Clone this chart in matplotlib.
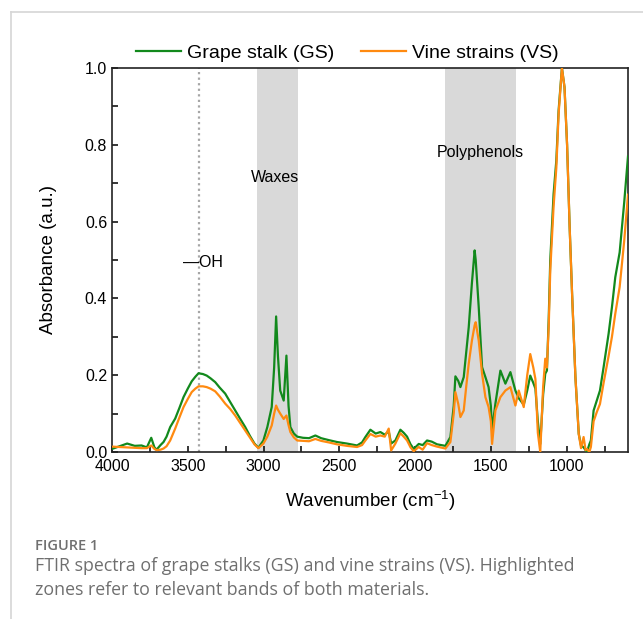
import matplotlib
matplotlib.use('Agg')
import matplotlib.pyplot as plt
from matplotlib.lines import Line2D
from matplotlib.ticker import MultipleLocator

# wavenumber (cm-1) and absorbance
wavenumber = [4000, 3950, 3900, 3850, 3805, 3770, 3741, 3720, 3706, 3680, 3660, 3640,
              3616, 3583, 3555, 3528, 3500, 3474, 3450, 3429, 3400, 3375, 3350, 3319,
              3290, 3253, 3220, 3187, 3155, 3121, 3090, 3060, 3034, 3001, 2975, 2946,
              2930, 2917, 2905, 2890, 2867, 2849, 2835, 2823, 2800, 2778, 2740, 2700,
              2658, 2620, 2570, 2515, 2450, 2383, 2350, 2328, 2295, 2260, 2229, 2200,
              2174, 2158, 2130, 2097, 2075, 2053, 2030, 2009, 1976, 1950, 1921, 1890,
              1855, 1800, 1767, 1745, 1734, 1715, 1701, 1679, 1660, 1646, 1625, 1607,
              1600, 1580, 1558, 1536, 1515, 1500, 1492, 1470, 1437, 1404, 1371, 1338,
              1316, 1283, 1260, 1240, 1220, 1206, 1190, 1174, 1155, 1141, 1130, 1118,
              1108, 1086, 1068, 1053, 1031, 1014, 997, 980, 964, 942, 920, 905,
              888, 875, 866, 850, 840, 822, 800, 780, 756, 723, 701, 679,
              650, 620, 595]

gs = [0.008, 0.015, 0.022, 0.016, 0.017, 0.012, 0.037, 0.012, 0.006, 0.018, 0.026, 0.040,
      0.065, 0.087, 0.115, 0.143, 0.165, 0.184, 0.196, 0.205, 0.203, 0.199, 0.192, 0.182,
      0.168, 0.152, 0.130, 0.108, 0.087, 0.065, 0.042, 0.022, 0.011, 0.030, 0.065, 0.117,
      0.220, 0.353, 0.250, 0.160, 0.134, 0.251, 0.120, 0.065, 0.048, 0.040, 0.037, 0.036,
      0.043, 0.036, 0.031, 0.026, 0.022, 0.017, 0.025, 0.039, 0.058, 0.048, 0.052, 0.045,
      0.054, 0.022, 0.030, 0.058, 0.050, 0.040, 0.020, 0.008, 0.021, 0.018, 0.030, 0.027,
      0.020, 0.016, 0.039, 0.120, 0.197, 0.185, 0.169, 0.195, 0.270, 0.325, 0.440, 0.525,
      0.500, 0.377, 0.221, 0.195, 0.169, 0.120, 0.056, 0.126, 0.212, 0.178, 0.208, 0.160,
      0.140, 0.123, 0.160, 0.199, 0.180, 0.165, 0.080, 0.021, 0.150, 0.204, 0.212, 0.350,
      0.499, 0.672, 0.759, 0.889, 1.000, 0.950, 0.800, 0.585, 0.412, 0.195, 0.047, 0.017,
      0.012, 0.005, 0.000, 0.020, 0.030, 0.108, 0.135, 0.160, 0.221, 0.308, 0.377, 0.455,
      0.520, 0.650, 0.770]

vs = [0.014, 0.013, 0.012, 0.011, 0.010, 0.010, 0.017, 0.008, 0.005, 0.006, 0.009, 0.015,
      0.030, 0.061, 0.090, 0.117, 0.138, 0.156, 0.165, 0.171, 0.171, 0.169, 0.165, 0.158,
      0.145, 0.126, 0.112, 0.095, 0.076, 0.056, 0.037, 0.020, 0.010, 0.022, 0.040, 0.069,
      0.100, 0.121, 0.110, 0.100, 0.086, 0.095, 0.070, 0.052, 0.038, 0.030, 0.029, 0.028,
      0.034, 0.029, 0.025, 0.020, 0.016, 0.013, 0.018, 0.030, 0.047, 0.040, 0.043, 0.040,
      0.061, 0.004, 0.022, 0.049, 0.040, 0.030, 0.012, 0.002, 0.013, 0.006, 0.023, 0.018,
      0.014, 0.009, 0.026, 0.100, 0.156, 0.125, 0.091, 0.108, 0.180, 0.230, 0.290, 0.330,
      0.338, 0.290, 0.204, 0.143, 0.117, 0.080, 0.021, 0.108, 0.143, 0.160, 0.169, 0.121,
      0.160, 0.117, 0.200, 0.255, 0.220, 0.190, 0.050, 0.000, 0.170, 0.243, 0.220, 0.330,
      0.473, 0.640, 0.740, 0.880, 1.000, 0.950, 0.800, 0.585, 0.412, 0.195, 0.047, 0.010,
      0.039, 0.005, 0.008, 0.000, 0.013, 0.080, 0.105, 0.125, 0.180, 0.250, 0.300, 0.360,
      0.430, 0.550, 0.670]

series_labels = ['Grape stalk (GS)', 'Vine strains (VS)']
bands = [(3045, 2773, 'Waxes'), (1805, 1335, 'Polyphenols')]
oh_position = 3425

plt.rcParams['font.family'] = ['Liberation Sans', 'DejaVu Sans']

fig = plt.figure(figsize=(6.43, 6.19), dpi=100)
ax = fig.add_axes([112 / 643, 1 - 452 / 619, 516 / 643, 384 / 619])

# highlighted zones
for lo, hi, name in bands:
    ax.axvspan(lo, hi, color='#d9d9d9', lw=0, zorder=0)
ax.text(2921, 0.715, 'Waxes', ha='center', va='center', fontsize=11.5)
ax.text(1570, 0.78, 'Polyphenols', ha='center', va='center', fontsize=11.5)

# -OH marker
ax.axvline(oh_position, color='#a6a6a6', ls=(0, (1, 1.5)), lw=1.6, zorder=1)
ax.text(3530, 0.493, '\u2014OH', ha='left', va='center', fontsize=11.5)

ax.plot(wavenumber, gs, color='#12891c', lw=1.6, label=series_labels[0], zorder=3)
ax.plot(wavenumber, vs, color='#ff8a10', lw=1.6, label=series_labels[1], zorder=4)

ax.set_xlim(4000, 595)
ax.set_ylim(0, 1.0)
ax.xaxis.set_major_locator(MultipleLocator(500))
ax.xaxis.set_minor_locator(MultipleLocator(250))
ax.yaxis.set_major_locator(MultipleLocator(0.2))
ax.yaxis.set_minor_locator(MultipleLocator(0.1))
ax.yaxis.set_major_formatter(plt.FuncFormatter(lambda v, p: f'{v:.1f}'))
ax.tick_params(which='both', direction='in', length=4.5, width=1.1, labelsize=11.5,
               top=False, right=False)
ax.tick_params(axis='x', pad=5)
for sp in ax.spines.values():
    sp.set_linewidth(1.2)
    sp.set_color('#222222')

ax.set_xlabel('Wavenumber (cm$^{\\mathregular{-1}}$)', fontsize=13.5, labelpad=10)
ax.set_ylabel('Absorbance (a.u.)', fontsize=13.5, labelpad=20)

ax.legend(loc='center', bbox_to_anchor=(0.456, 1.039), ncol=2, frameon=False,
          fontsize=14, handlelength=2.3, handletextpad=0.3, columnspacing=1.4,
          borderaxespad=0, borderpad=0)

# page frame
fig.add_artist(Line2D([11 / 643, 1], [1 - 12 / 619, 1 - 12 / 619], color='#d6d6d6', lw=1.2))
fig.add_artist(Line2D([11 / 643, 11 / 643], [0, 1 - 12 / 619], color='#d6d6d6', lw=1.2))

# caption
cap_font = ['Open Sans', 'DejaVu Sans']
fig.text(35 / 643, 1 - 546 / 619, 'FIGURE 1', fontsize=10.5, color='#707070',
         family=cap_font, fontweight='semibold', va='center')
fig.text(35 / 643, 1 - 566 / 619,
         'FTIR spectra of grape stalks (GS) and vine strains (VS). Highlighted',
         fontsize=12.8, color='#6f6f6f', family=cap_font, va='center')
fig.text(35 / 643, 1 - 590 / 619, 'zones refer to relevant bands of both materials.',
         fontsize=12.8, color='#6f6f6f', family=cap_font, va='center')

fig.savefig('out.png', dpi=100)
